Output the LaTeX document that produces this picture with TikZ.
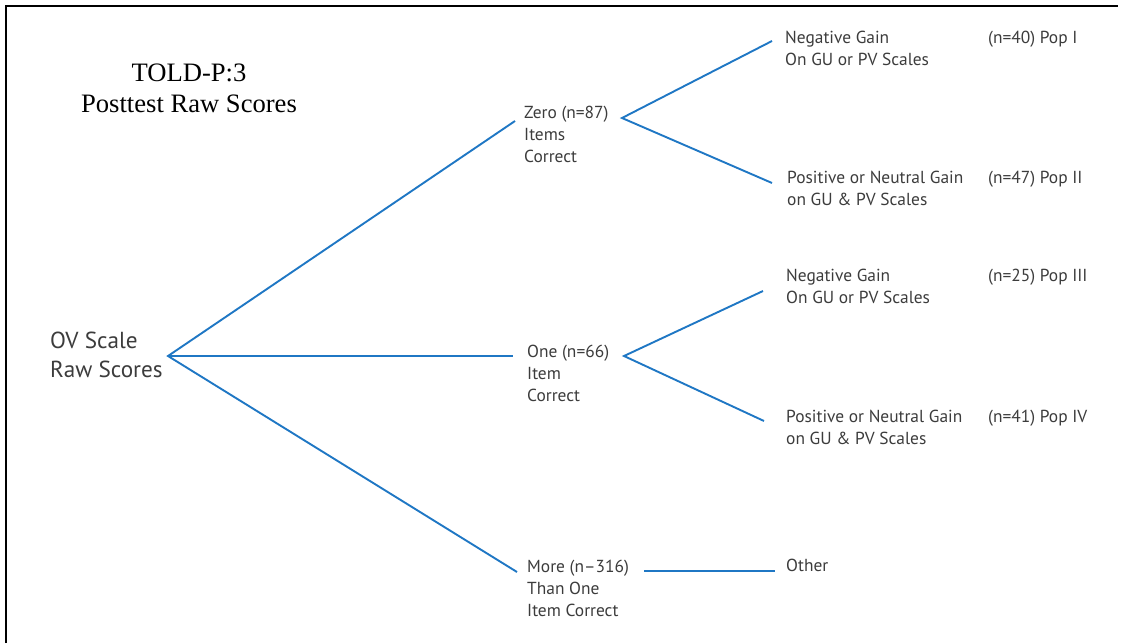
\documentclass[tikz,border=0pt]{standalone}
\usepackage{fontspec}
\setmainfont{Liberation Serif}
\newfontfamily\sanslbl{PT Sans}
\definecolor{lineblue}{RGB}{31,119,196}
\definecolor{txtgray}{RGB}{60,60,60}
\tikzset{
  conn/.style={draw=lineblue, line width=1.9pt},
  lbl/.style={anchor=base west, inner sep=0pt, align=left, text=txtgray,
    font=\sanslbl\fontsize{17.4}{22}\selectfont},
  biglbl/.style={anchor=base west, inner sep=0pt, align=left, text=txtgray,
    font=\sanslbl\fontsize{23.2}{29}\selectfont},
  title/.style={inner sep=0pt, align=center, text=black,
    font=\fontsize{26.6}{31}\selectfont}
}
\begin{document}
\begin{tikzpicture}[x=1pt,y=-1pt]
\useasboundingbox (0,0) rectangle (1124,643);
\draw[line width=2pt] (6,643) -- (6,6) -- (1118,6);

% multi-line nodes are placed by the baseline of their last line
\node[title, anchor=base] (title) at (189,112.5) {TOLD-P:3\\Posttest Raw Scores};

\node[biglbl] (ov) at (50,377) {OV Scale\\Raw Scores};

\node[lbl] (zero) at (524,162) {Zero (n=87)\\Items\\Correct};
\node[lbl] (one) at (527,401) {One (n=66)\\Item\\Correct};
\node[lbl] (more) at (527,616) {More (n–316)\\Than One\\Item Correct};

\node[lbl] (neg1) at (785,65) {Negative Gain\\On GU or PV Scales};
\node[lbl] (pos1) at (787,205) {Positive or Neutral Gain\\on GU \& PV Scales};
\node[lbl] (neg2) at (786,303) {Negative Gain\\On GU or PV Scales};
\node[lbl] (pos2) at (786,444) {Positive or Neutral Gain\\on GU \& PV Scales};
\node[lbl] (other) at (786,571) {Other};

\node[lbl] (p1) at (988,43) {(n=40) Pop I};
\node[lbl] (p2) at (988,183) {(n=47) Pop II};
\node[lbl] (p3) at (988,281) {(n=25) Pop III};
\node[lbl] (p4) at (988,422) {(n=41) Pop IV};

\coordinate (root) at (168,356);
\coordinate (zeroin) at (515,121);
\coordinate (onein) at (513,356);
\coordinate (morein) at (517,572);
\coordinate (zeroout) at (622,118);
\coordinate (oneout) at (624,356);
\coordinate (moreout) at (644,571);
\coordinate (neg1in) at (772,41);
\coordinate (pos1in) at (772,183);
\coordinate (neg2in) at (763,291);
\coordinate (pos2in) at (764,421);
\coordinate (otherin) at (775,571);

\draw[conn] (zeroin) -- (root) -- (morein);
\draw[conn] (root) -- (onein);
\draw[conn] (neg1in) -- (zeroout) -- (pos1in);
\draw[conn] (neg2in) -- (oneout) -- (pos2in);
\draw[conn] (moreout) -- (otherin);
\end{tikzpicture}
\end{document}
